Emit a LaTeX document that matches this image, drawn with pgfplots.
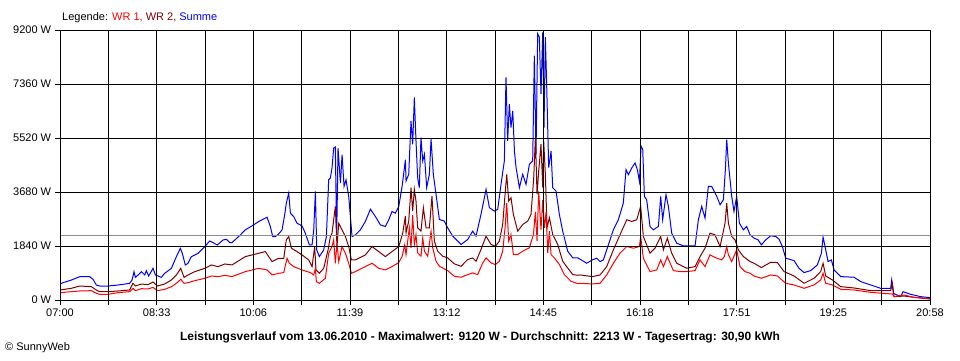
\documentclass[border=0pt]{standalone}
\usepackage{pgfplots}
\pgfplotsset{compat=1.18}
\usepackage{fontspec}
\setmainfont{Liberation Sans}
\definecolor{wrone}{RGB}{255,0,0}
\definecolor{wrtwo}{RGB}{128,0,0}
\definecolor{summe}{RGB}{0,0,255}
\definecolor{avg}{RGB}{140,140,140}
\begin{document}
\fontsize{11}{13}\selectfont
\begin{tikzpicture}[x=1pt,y=1pt]
\useasboundingbox (0,0) rectangle (960,360);
\begin{axis}[
  at={(60pt,60pt)}, anchor=south west,
  scale only axis, width=870pt, height=270pt,
  xmin=0, xmax=838, ymin=0, ymax=9200,
  axis on top,
  axis line style={black, line width=1pt},
  grid=major, grid style={black, line width=1pt},
  xtick={0,46.556,93.111,139.667,186.222,232.778,279.333,325.889,372.444,419,465.556,512.111,558.667,605.222,651.778,698.333,744.889,791.444,838},
  xticklabels={07:00,,08:33,,10:06,,11:39,,13:12,,14:45,,16:18,,17:51,,19:25,,20:58},
  ytick={0,1840,3680,5520,7360,9200},
  yticklabels={0 W,1840 W,3680 W,5520 W,7360 W,9200 W},
  tick align=outside, xtick pos=bottom, ytick pos=left,
  major tick length=5pt,
  tick style={black, line width=1pt},
  ticklabel style={font=\fontsize{11}{13}\selectfont},
  every axis plot/.append style={line width=1pt, no marks},
]
% Summe
\addplot[summe] coordinates {
(0,545)(2.9,590)(10.9,680)(19.0,795)(28.6,795)(31.8,705)(35.0,511)(38.2,477)(46.3,477)(55.9,511)(67.1,568)(69.4,680)(71.3,965)(72.6,772)(75.2,852)(78.4,965)(81.6,852)(83.2,1000)(85.4,818)(89.6,1079)(91.9,852)(94.4,818)(97.6,772)(100.8,909)(107.3,1079)(112.1,1477)(115.9,1761)(117.8,1590)(120.7,1193)(123.3,1250)(126.5,1477)(132.9,1590)(139.4,1818)(144.2,2011)(147.4,1954)(151.6,1874)(157.0,2045)(160.3,2068)(163.5,1954)
(165.7,1957)(172.1,2162)(178.5,2390)(185.0,2526)(191.4,2674)(199.4,2822)(202.6,2504)(204.9,2162)(207.4,2162)(210.7,2253)(213.9,2390)(216.4,2902)(218.0,3300)(220.3,3642)(221.9,2959)(225.1,2845)(228.3,2617)(233.1,2526)(236.3,2276)(240.2,1878)(242.8,1878)(244.4,2390)(246.0,3699)(247.3,1707)(249.8,1479)(254.0,1707)(256.6,2162)(258.8,4097)(260.4,4154)(262.0,4495)(263.6,5178)(265.2,5212)(266.5,2100)(267.8,5178)(270.1,3983)(271.7,4950)(273.6,3869)(275.5,4097)(278.1,3528)(279.7,2845)(281.3,2162)(284.5,2219)(289.3,2390)(294.1,2674)(299.0,3095)(303.8,2845)(308.6,2560)(313.4,2504)(316.6,2731)(319.8,3016)(323.0,2959)(326.3,3186)(329.5,3869)(331.1,4324)(332.7,4780)
(333.3,4055)(335.9,4283)(338.1,6105)(339.7,5308)(341.3,6902)(342.9,5422)(344.5,4169)(346.1,3827)(347.7,5536)(349.4,4738)(351.0,4966)(353.2,3827)(355.8,4283)(357.4,5479)(359.6,4283)(362.2,3599)(365.4,2745)(370.2,2688)(373.4,2460)(378.3,2175)(386.3,1891)(392.7,2062)(397.5,2346)(400.7,2175)(405.5,2916)(410.4,3770)(413.6,3144)(418.4,3030)(421.6,3087)(424.8,3941)(428.0,4738)(429.6,7586)(431.2,5422)(432.8,6675)(434.4,5877)(436.1,6447)(437.7,5080)(439.3,4510)(442.5,3827)(445.7,4283)(448.9,3941)(452.1,4624)(455.3,4738)(456.9,8326)(458.5,4966)(460.1,9066)(461.7,8953)(463.3,7016)(465.0,9120)(466.2,5877)(467.5,8953)(468.8,7301)(470.7,4510)(473.0,5080)(474.6,3827)(477.8,3713)(481.0,2916)(484.2,2346)(489.0,1663)(493.9,1435)(498.7,1435)
(500.9,1390)(507.3,1253)(512.8,1367)(517.0,1424)(520.2,1310)(523.4,1367)(528.2,1879)(533.0,2392)(537.8,2734)(542.6,3303)(545.2,4442)(547.5,4271)(550.7,4499)(553.9,4670)(556.1,4442)(558.1,4043)(559.7,5239)(561.3,5125)(562.9,3531)(565.1,3417)(568.3,2506)(571.5,2392)(576.4,2506)(578.6,3531)(580.5,2734)(583.7,3588)(586.0,3189)(589.2,2278)(594.0,1936)(600.4,1845)(606.9,1845)(611.7,1845)(614.9,2734)(618.1,3189)(621.3,2791)(624.5,3873)(627.7,3873)(632.6,3531)(635.8,3246)(639.0,3417)(640.9,4442)(642.2,5467)(643.8,4670)(645.4,4100)(647.0,3531)(649.2,3018)(651.8,3531)(654.4,2620)(658.2,2392)(661.4,2506)(664.7,2221)
(668.5,2107)(672.4,2050)(675.6,1879)(679.7,2050)(684.6,2187)(689.4,2164)(692.6,2073)(695.8,1822)(699.0,1424)(707.0,1344)(711.8,1082)(716.7,934)(723.1,1002)(729.5,1196)(733.4,1595)(735.0,2141)(736.6,1879)(739.8,1310)(743.0,1367)(745.6,1025)(752.0,797)(764.8,775)(771.3,626)(780.9,513)(790.5,399)(800.1,399)(801.1,683)(802.7,228)(809.8,114)(812.0,285)(819.4,194)(829.0,114)(838,80)
};
% WR 2
\addplot[wrtwo] coordinates {
(0,341)(10.9,398)(19.0,477)(30.2,454)(35.0,341)(38.2,284)(46.3,284)(55.9,307)(67.1,341)(70.3,568)(72.6,477)(78.4,545)(84.8,523)(89.6,613)(93.8,477)(100.8,545)(107.3,682)(112.1,852)(116.3,1079)(119.5,772)(123.3,852)(129.8,965)(139.4,1079)(145.8,1193)(152.2,1136)(158.7,1227)
(165.7,1195)(178.5,1479)(191.4,1593)(197.8,1650)(204.2,1309)(210.7,1422)(215.5,1422)(218.0,2048)(220.3,2162)(222.9,1764)(228.3,1650)(233.1,1536)(239.6,1366)(242.8,1138)(245.3,1821)(246.6,1024)(249.8,910)(254.0,1081)(258.2,1707)(260.4,2162)(262.0,2276)(265.2,3186)(266.8,1821)(268.5,2617)(271.7,2390)(274.9,2162)(278.1,1821)(280.7,1366)(284.5,1366)(294.1,1536)(300.6,1821)(307.0,1650)(313.4,1479)(319.8,1650)(326.3,1821)(330.1,2276)(332.7,2868)
(333.3,2289)(335.9,2688)(338.1,3827)(339.7,3030)(341.3,3770)(342.9,3371)(344.5,2460)(347.7,2346)(350.0,3144)(352.6,2460)(355.8,2460)(358.3,3542)(360.6,2005)(363.8,1663)(368.6,1492)(373.4,1435)(379.9,1230)(386.3,1150)(392.7,1378)(397.5,1435)(400.7,1321)(405.5,1720)(410.4,2175)(415.2,1891)(419.4,1834)(423.2,2005)(426.4,2574)(428.7,3599)(430.3,4283)(432.2,3371)(434.4,3485)(436.7,2916)(440.9,2346)(445.7,2574)(450.5,2688)(453.7,2916)(456.3,4169)(457.9,5536)(459.5,3599)(461.1,4397)(463.3,5308)(465.0,3827)(465.9,5422)(467.5,4283)(469.1,2460)(471.4,2802)(474.6,2232)(479.4,1891)(484.2,1321)(489.0,1093)(493.9,866)(498.7,843)
(500.9,854)(512.8,797)(520.2,854)(526.6,1139)(533.0,1709)(539.4,2221)(545.9,2734)(550.7,2677)(555.5,2734)(559.3,3189)(561.9,2164)(568.3,1595)(573.1,1765)(578.6,2164)(581.2,1709)(585.0,2107)(589.2,1595)(594.0,1253)(603.6,1082)(611.7,1139)(616.5,1481)(621.3,1765)(626.1,2278)(630.9,2221)(635.8,1822)(640.6,2620)(642.2,3303)(643.8,2620)(647.0,2164)(650.2,2050)(653.4,1709)(658.2,1481)(664.7,1310)
(668.5,1253)(675.6,1105)(684.6,1287)(691.0,1276)(697.4,968)(707.0,820)(716.7,570)(726.3,740)(732.7,968)(735.0,1253)(737.5,820)(744.0,683)(752.0,456)(764.8,410)(780.9,319)(800.1,319)(801.8,570)(803.4,114)(813.0,137)(822.6,91)(838,46)
};
% WR 1
\addplot[wrone] coordinates {
(0,250)(10.9,284)(19.0,307)(30.2,318)(35.0,227)(38.2,193)(46.3,193)(55.9,250)(67.1,284)(70.3,398)(72.6,318)(78.4,386)(84.8,375)(89.6,432)(93.8,318)(100.8,364)(107.3,454)(112.1,568)(116.3,705)(119.5,568)(123.3,590)(129.8,659)(139.4,738)(145.8,818)(152.2,795)(158.7,840)
(165.7,797)(178.5,967)(191.4,1081)(199.4,1024)(204.2,854)(210.7,910)(215.5,933)(218.7,1422)(220.9,1252)(225.1,1138)(233.1,1024)(241.2,933)(244.4,854)(246.0,1081)(246.9,626)(249.8,569)(255.6,740)(258.8,1593)(262.0,1821)(263.6,2048)(265.2,1252)(266.8,1935)(268.5,1309)(271.7,1821)(274.9,1593)(278.1,1252)(280.7,910)(284.5,967)(294.1,1138)(300.6,1252)(307.0,1081)(313.4,1024)(319.8,1138)(326.3,1275)(329.5,1479)(332.0,1878)
(333.3,1549)(336.5,2460)(338.1,1777)(339.7,2900)(341.3,1891)(342.9,2232)(344.5,1606)(347.7,1492)(349.4,2119)(351.0,1663)(354.2,1492)(357.4,2346)(359.0,1777)(362.2,1321)(365.4,1150)(373.4,1002)(379.9,809)(386.3,775)(392.7,866)(397.5,923)(402.3,866)(407.2,1264)(410.4,1435)(415.2,1264)(419.4,1207)(423.2,1321)(426.4,1663)(428.7,2460)(430.3,3300)(432.2,2005)(434.4,2232)(436.7,1549)(440.9,1549)(445.7,1663)(452.1,1777)(456.0,2232)(457.9,3000)(459.5,2005)(461.1,3700)(463.3,2400)(465.0,3400)(466.6,2460)(468.2,3000)(469.8,1606)(471.4,2346)(473.0,1549)(476.2,1435)(481.0,1207)(485.8,866)(492.2,638)(498.7,558)
(500.9,570)(512.8,547)(520.2,570)(526.6,854)(533.0,1253)(539.4,1595)(545.9,1822)(552.3,1765)(558.1,1822)(559.3,2164)(561.9,1424)(568.3,968)(574.8,1025)(578.6,1367)(581.2,1139)(585.0,1481)(590.8,1000)(597.2,970)(603.6,970)(611.7,1000)(616.5,1367)(621.3,1139)(626.1,1538)(632.6,1424)(637.4,1367)(639.9,1481)(642.2,1822)(643.8,1538)(647.0,1310)(651.8,1709)(655.0,1139)(659.8,968)(664.7,911)
(668.5,820)(675.6,740)(684.6,854)(691.0,820)(699.0,570)(707.0,513)(716.7,399)(726.3,513)(732.7,683)(735.0,911)(737.5,570)(744.0,513)(752.0,365)(764.8,342)(780.9,262)(792.1,228)(801.8,205)(803.4,114)(813.0,171)(822.6,91)(838,34)
};
% Durchschnitt
\addplot[avg] coordinates {(0,2213)(838,2213)};
\end{axis}
\node[anchor=west, inner sep=0pt] at (62,342.5) {Legende: \textcolor{wrone}{WR 1,} \textcolor{wrtwo}{WR 2,} \textcolor{summe}{Summe}};
\node[inner sep=0pt, font=\fontsize{12}{14}\selectfont\bfseries] at (480,23) {Leistungsverlauf vom 13.06.2010 - Maximalwert: 9120 W - Durchschnitt: 2213 W - Tagesertrag: 30,90 kWh};
\node[anchor=west, inner sep=0pt] at (5,12) {© SunnyWeb};
\end{tikzpicture}
\end{document}
